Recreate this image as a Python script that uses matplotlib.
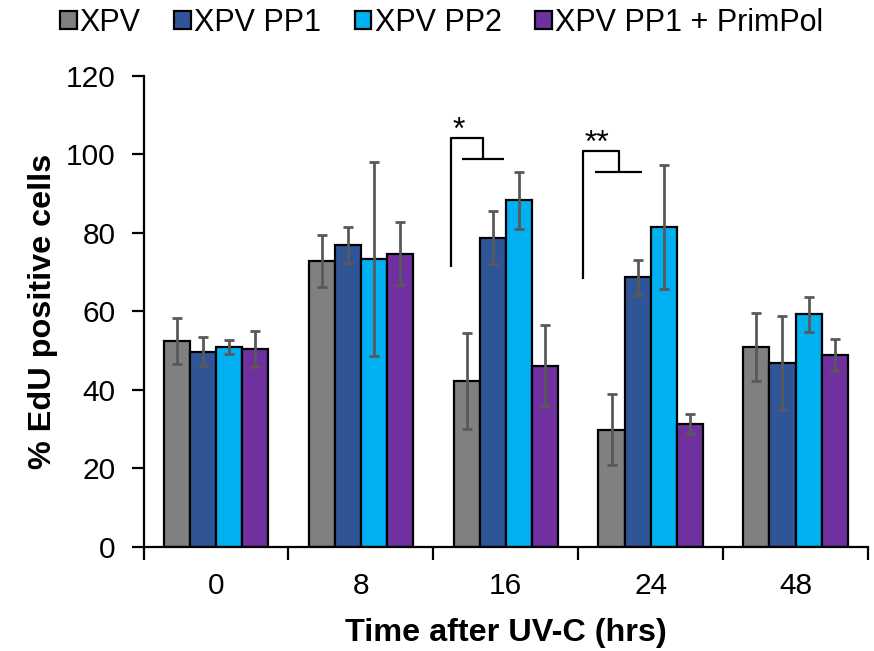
import numpy as np
import matplotlib
matplotlib.use("Agg")
import matplotlib.pyplot as plt
from matplotlib.ticker import FixedLocator

plt.rcParams['font.family'] = ['Liberation Sans', 'DejaVu Sans']

# time points after UV-C and the four cell lines
times = ['0', '8', '16', '24', '48']
series = ['XPV', 'XPV PP1', 'XPV PP2', 'XPV PP1 + PrimPol']
colors = ['#808080', '#2F5597', '#00B0F0', '#7030A0']

# % EdU positive cells (mean) per cell line
xpv = [52.4, 72.8, 42.2, 29.8, 50.9]
xpv_pp1 = [49.6, 76.9, 78.7, 68.6, 46.8]
xpv_pp2 = [50.9, 73.3, 88.2, 81.4, 59.2]
xpv_pp1_primpol = [50.3, 74.6, 46.1, 31.2, 48.8]

# error bar half-widths
xpv_err = [5.8, 6.7, 12.2, 9.0, 8.6]
xpv_pp1_err = [3.7, 4.6, 6.7, 4.5, 12.0]
xpv_pp2_err = [1.8, 24.7, 7.3, 15.8, 4.4]
xpv_pp1_primpol_err = [4.6, 8.0, 10.3, 2.5, 4.1]

means = [xpv, xpv_pp1, xpv_pp2, xpv_pp1_primpol]
errs = [xpv_err, xpv_pp1_err, xpv_pp2_err, xpv_pp1_primpol_err]

fig = plt.figure(figsize=(8.74, 6.51), dpi=100)
ax = fig.add_axes([0.1642, 0.1605, 0.8289, 0.7232])

x = np.arange(len(times))
w = 0.18
for i, (m, e, c, name) in enumerate(zip(means, errs, colors, series)):
    ax.bar(x + (i - 1.5) * w, m, w, color=c, edgecolor='black', linewidth=1.6,
           label=name, zorder=2)
    ax.errorbar(x + (i - 1.5) * w, m, yerr=e, fmt='none', ecolor='#595959',
                elinewidth=2, capsize=3.7, capthick=2, zorder=3)

# significance brackets, offsets relative to the group centre
def bracket(g, xl, xm, xs, xe, y_top, y_low, y_bot, stars, sx, sy):
    kw = dict(color='black', lw=1.6, solid_capstyle='butt', zorder=4)
    ax.plot([g + xl, g + xl, g + xm, g + xm], [y_bot, y_top, y_top, y_low], **kw)
    ax.plot([g + xs, g + xe], [y_low, y_low], **kw)
    ax.text(g + sx, sy, stars, ha='center', va='baseline', fontsize=23)

bracket(2, -0.380, -0.159, -0.304, -0.012, 104.0, 98.7, 71.3, '*', -0.323, 103.8)
bracket(3, -0.469, -0.220, -0.386, -0.058, 100.9, 95.4, 68.1, '**', -0.372, 100.6)

ax.set_xlim(-0.5, len(times) - 0.5)
ax.set_ylim(0, 120)
ax.set_yticks(range(0, 121, 20))
ax.set_xticks(x)
ax.set_xticklabels(times)
ax.xaxis.set_minor_locator(FixedLocator(np.arange(-0.5, len(times), 1)))
ax.tick_params(axis='x', which='major', length=0, pad=18, labelsize=21.5)
ax.tick_params(axis='x', which='minor', length=9, width=1.6, direction='out')
ax.tick_params(axis='y', length=9, width=1.6, direction='out', pad=11, labelsize=21.5)

for s in ['top', 'right']:
    ax.spines[s].set_visible(False)
for s in ['left', 'bottom']:
    ax.spines[s].set_linewidth(1.6)

ax.set_xlabel('Time after UV-C (hrs)', fontsize=23.3, fontweight='bold', labelpad=13)
ax.set_ylabel('% EdU positive cells', fontsize=23.3, fontweight='bold', labelpad=6)

fig.legend(loc='upper center', bbox_to_anchor=(0.505, 1.03), ncol=4, frameon=False,
           fontsize=22, handlelength=0.55, handleheight=0.55, handletextpad=0.1,
           columnspacing=1.1)

fig.savefig('out.png', dpi=100)
